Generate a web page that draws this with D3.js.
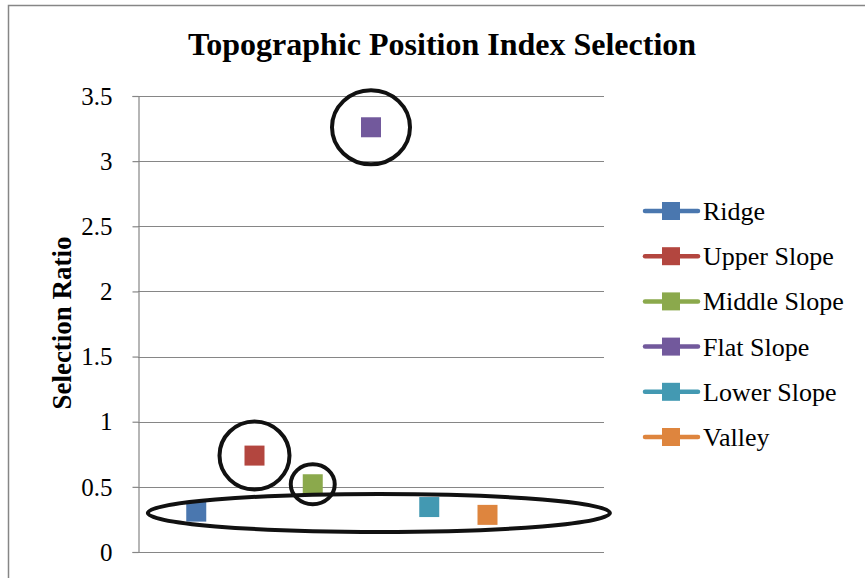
<!DOCTYPE html>
<html><head><meta charset="utf-8">
<script src="https://cdn.jsdelivr.net/npm/d3@7"></script>
<style>body{margin:0;background:#fff}svg{display:block}</style>
</head><body>
<svg id="c" width="865" height="578"></svg>
<script>
const categories = ["Ridge","Upper Slope","Middle Slope","Flat Slope","Lower Slope","Valley"];
const values = [0.31, 0.74, 0.52, 3.26, 0.345, 0.285];
const colors = ["#4A77AF","#B3463F","#8BA94C","#72599C","#4399B2","#DE853E"];
const yTicks = [0,0.5,1,1.5,2,2.5,3,3.5];
const title = "Topographic Position Index Selection";
const yTitle = "Selection Ratio";
// annotation circles: which series they surround
const circled = ["Upper Slope","Middle Slope","Flat Slope"];
const circleR = [[35,34],[22,20],[39,37]];
const groupEllipse = ["Ridge","Valley"];

const svg = d3.select("#c");
const m = {l:138, r:604, t:96, b:552};
const font = "'Liberation Serif','Times New Roman',serif";

// outer frame
svg.append("rect").attr("x",8.5).attr("y",5.5).attr("width",900).attr("height",600)
  .attr("fill","none").attr("stroke","#868686").attr("stroke-width",1.5);

const x = d3.scaleLinear().domain([0,8]).range([m.l,m.r]);
const y = d3.scaleLinear().domain([0,3.5]).range([m.b,m.t]);

// gridlines
svg.append("g").selectAll("line").data(yTicks).join("line")
  .attr("x1",m.l).attr("x2",m.r).attr("y1",d=>Math.round(y(d))+0.5).attr("y2",d=>Math.round(y(d))+0.5)
  .attr("stroke","#868686").attr("stroke-width",1.2);

const ax = svg.append("g").attr("transform",`translate(${m.l+0.5},0)`)
  .call(d3.axisLeft(y).tickValues(yTicks).tickFormat(d=>String(d)).tickSize(6).tickPadding(20));
ax.select(".domain").attr("stroke","#868686").attr("stroke-width",1.2);
ax.selectAll(".tick line").attr("stroke","#868686").attr("stroke-width",1.2);
ax.selectAll(".tick text").attr("font-family",font).style("font-family",font).attr("font-size",25).attr("fill","#000").attr("dy","0.33em");

// title
svg.append("text").attr("x",442).attr("y",55).attr("text-anchor","middle")
  .attr("font-family",font).attr("font-weight","bold").attr("font-size",32).text(title);
svg.append("text").attr("transform","translate(71,323) rotate(-90)").attr("text-anchor","middle")
  .attr("font-family",font).attr("font-weight","bold").attr("font-size",27).text(yTitle);

// markers
const ms = 20;
svg.append("g").selectAll("rect").data(values).join("rect")
  .attr("x",(d,i)=>x(i+1)-ms/2).attr("y",d=>y(d)-ms/2).attr("width",ms).attr("height",ms)
  .attr("fill",(d,i)=>colors[i]);

// annotations
circled.forEach((name,k)=>{
  const i = categories.indexOf(name);
  svg.append("ellipse").attr("cx",x(i+1)).attr("cy",y(values[i]))
    .attr("rx",circleR[k][0]).attr("ry",circleR[k][1])
    .attr("fill","none").attr("stroke","#111").attr("stroke-width",4);
});
{
  const i0 = categories.indexOf(groupEllipse[0]), i1 = categories.indexOf(groupEllipse[1]);
  const cx = (x(i0+1)+x(i1+1))/2 + 37;
  const low = values.filter(v=>v<0.5);
  const cy = y(d3.mean([d3.min(low),d3.max(low)])) + 2;
  svg.append("ellipse").attr("cx",cx).attr("cy",cy).attr("rx",231).attr("ry",19)
    .attr("fill","none").attr("stroke","#111").attr("stroke-width",4);
}

// legend
const lg = svg.append("g");
categories.forEach((c,i)=>{
  const ly = 211 + i*45.2;
  lg.append("line").attr("x1",645).attr("x2",698).attr("y1",ly).attr("y2",ly)
    .attr("stroke",colors[i]).attr("stroke-width",4.5).attr("stroke-linecap","round");
  lg.append("rect").attr("x",662).attr("y",ly-9).attr("width",18).attr("height",18)
    .attr("fill",colors[i]);
  lg.append("text").attr("x",703).attr("y",ly+9).attr("font-family",font).attr("font-size",26).text(c);
});
</script>
</body></html>
